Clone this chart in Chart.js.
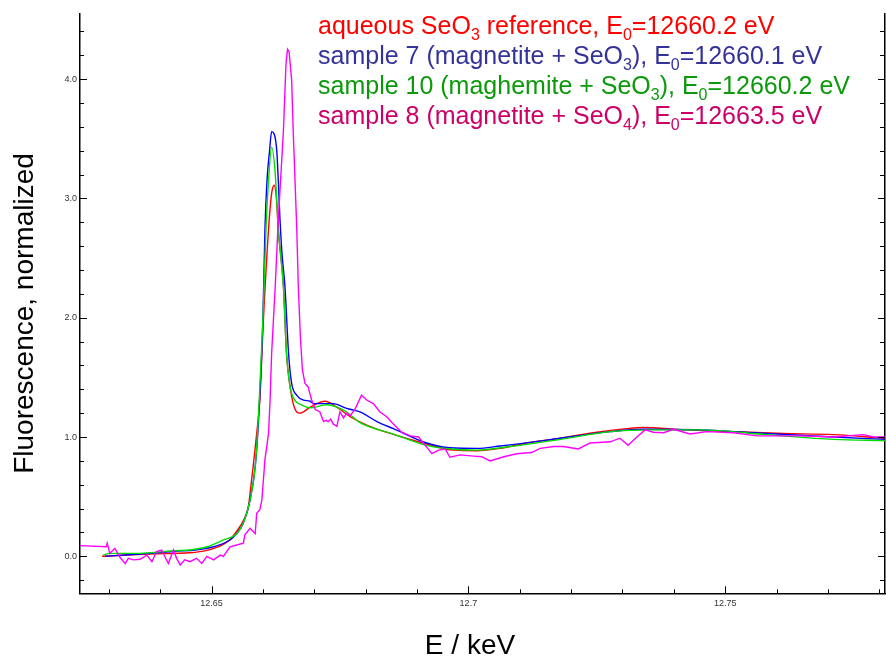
<!DOCTYPE html>
<html>
<head>
<meta charset="utf-8">
<script src="https://cdn.jsdelivr.net/npm/chart.js@4.4.1/dist/chart.umd.min.js"></script>
<style>
    html, body { margin: 0; padding: 0; background: #fff; }
    #xanes-chart { display: block; }
</style>
</head>
<body>
<canvas id="xanes-chart" width="886" height="656"></canvas>
<script>
// energies in keV, fluorescence normalized
const refEnergy = [12.6287, 12.6380, 12.6458, 12.6491, 12.6523, 12.6536, 12.6549, 12.6562, 12.6572, 12.6575,
    12.6581, 12.6588, 12.6594, 12.6601, 12.6611, 12.6617, 12.6622, 12.6626, 12.6630, 12.6640,
    12.6646, 12.6653, 12.6659, 12.6666, 12.6672, 12.6692, 12.6721, 12.6744, 12.6770, 12.6802,
    12.6848, 12.6912, 12.6971, 12.7016, 12.7062, 12.7114, 12.7179, 12.7243, 12.7308, 12.7341,
    12.7419, 12.7516, 12.7613, 12.7711, 12.7811];
const refFluor = [0.00, 0.02, 0.03, 0.05, 0.10, 0.14, 0.21, 0.30, 0.42, 0.53,
    0.75, 1.03, 1.31, 1.98, 2.74, 3.04, 3.11, 3.02, 2.74, 2.26,
    1.70, 1.42, 1.28, 1.21, 1.20, 1.25, 1.30, 1.25, 1.17, 1.10,
    1.03, 0.95, 0.89, 0.885, 0.905, 0.95, 0.99, 1.036, 1.07, 1.08,
    1.06, 1.045, 1.03, 1.02, 0.99];

const s7Energy = [12.6293, 12.6328, 12.6426, 12.6491, 12.6536, 12.6549, 12.6562, 12.6575, 12.6585, 12.6591,
    12.6600, 12.6604, 12.6608, 12.6613, 12.6617, 12.6622, 12.6627, 12.6630, 12.6633, 12.6637,
    12.6643, 12.6650, 12.6656, 12.6666, 12.6679, 12.6692, 12.6698, 12.6737, 12.6763, 12.6789,
    12.6822, 12.6854, 12.6919, 12.6964, 12.7016, 12.7062, 12.7146, 12.7211, 12.7276, 12.7341,
    12.7451, 12.7581, 12.7711, 12.7811];
const s7Fluor = [0.00, 0.01, 0.04, 0.067, 0.137, 0.19, 0.28, 0.47, 0.75, 1.10,
    1.98, 2.74, 3.15, 3.40, 3.56, 3.54, 3.40, 3.15, 2.85, 2.55,
    2.26, 1.70, 1.45, 1.35, 1.31, 1.30, 1.28, 1.28, 1.24, 1.21,
    1.13, 1.07, 0.95, 0.91, 0.905, 0.925, 0.97, 1.01, 1.045, 1.065,
    1.06, 1.03, 1.00, 0.98];

const s10Energy = [12.6289, 12.6302, 12.6361, 12.6426, 12.6458, 12.6491, 12.6523, 12.6549, 12.6562, 12.6575,
    12.6585, 12.6591, 12.6600, 12.6606, 12.6611, 12.6617, 12.6624, 12.6630, 12.6640, 12.6646,
    12.6653, 12.6662, 12.6675, 12.6692, 12.6724, 12.6744, 12.6763, 12.6789, 12.6854, 12.6919,
    12.6971, 12.7016, 12.7081, 12.7179, 12.7276, 12.7354, 12.7451, 12.7581, 12.7711, 12.7811];
const s10Fluor = [0.01, 0.025, 0.025, 0.047, 0.053, 0.08, 0.137, 0.19, 0.28, 0.47,
    0.75, 1.14, 1.98, 2.74, 3.15, 3.43, 3.21, 2.74, 2.26, 1.70,
    1.42, 1.31, 1.27, 1.245, 1.27, 1.25, 1.21, 1.12, 1.025, 0.93,
    0.897, 0.89, 0.92, 0.98, 1.045, 1.06, 1.06, 1.02, 0.98, 0.97];

const s8Energy = [12.6244, 12.6295, 12.6297, 12.6302, 12.6312, 12.6322, 12.6332, 12.6338, 12.6348, 12.6361,
    12.6374, 12.6384, 12.6393, 12.6403, 12.6416, 12.6426, 12.6432, 12.6439, 12.6448, 12.6458,
    12.6471, 12.6481, 12.6491, 12.6504, 12.6517, 12.6523, 12.6536, 12.6549, 12.6562, 12.6565,
    12.6575, 12.6585, 12.6588, 12.6594, 12.6598, 12.6604, 12.6611, 12.6614, 12.6617, 12.6624,
    12.6630, 12.6640, 12.6645, 12.6648, 12.6651, 12.6656, 12.6659, 12.6666, 12.6669, 12.6673,
    12.6677, 12.6682, 12.6688, 12.6695, 12.6702, 12.6711, 12.6718, 12.6723, 12.6727, 12.6732,
    12.6737, 12.6744, 12.6750, 12.6757, 12.6763, 12.6770, 12.6779, 12.6792, 12.6802, 12.6815,
    12.6828, 12.6841, 12.6854, 12.6870, 12.6887, 12.6903, 12.6916, 12.6929, 12.6942, 12.6955,
    12.6964, 12.6984, 12.7010, 12.7026, 12.7042, 12.7069, 12.7094, 12.7123, 12.7140, 12.7166,
    12.7185, 12.7214, 12.7237, 12.7276, 12.7295, 12.7311, 12.7328, 12.7344, 12.7360, 12.7380,
    12.7399, 12.7432, 12.7464, 12.7516, 12.7562, 12.7646, 12.7711, 12.7769, 12.7788, 12.7811];
const s8Fluor = [0.09, 0.08, 0.11, 0.025, 0.067, -0.01, -0.06, -0.017, -0.03, -0.025,
    0.01, -0.045, 0.04, 0.053, -0.06, 0.053, -0.017, -0.073, -0.03, -0.045,
    -0.017, -0.06, 0.00, -0.03, 0.01, 0.00, 0.08, 0.095, 0.11, 0.18,
    0.235, 0.19, 0.36, 0.39, 0.47, 0.81, 1.03, 1.31, 1.70, 2.26,
    2.82, 3.57, 4.13, 4.25, 4.23, 3.99, 3.57, 2.74, 2.26, 1.84,
    1.56, 1.45, 1.42, 1.31, 1.23, 1.21, 1.13, 1.14, 1.13, 1.15,
    1.11, 1.09, 1.21, 1.16, 1.20, 1.18, 1.23, 1.35, 1.31, 1.28,
    1.21, 1.17, 1.11, 1.04, 1.01, 1.00, 0.93, 0.86, 0.89, 0.90,
    0.83, 0.85, 0.84, 0.835, 0.80, 0.835, 0.86, 0.87, 0.905, 0.92,
    0.92, 0.90, 0.95, 0.96, 0.99, 0.93, 1.00, 1.06, 1.04, 1.036,
    1.065, 1.025, 1.045, 1.036, 1.01, 1.01, 1.00, 1.02, 1.00, 1.00];

const xTickValues = [12.65, 12.7, 12.75];
const xTickLabels = ["12.65", "12.7", "12.75"];
const yTickValues = [0, 1, 2, 3, 4];
const yTickLabels = ["0.0", "1.0", "2.0", "3.0", "4.0"];

// legend lines: [text, isSubscript]
const legendLines = [
    { color: "#ff0000", parts: [["aqueous SeO", 0], ["3", 1], [" reference, E", 0], ["0", 1], ["=12660.2 eV", 0]] },
    { color: "#333399", parts: [["sample 7 (magnetite + SeO", 0], ["3", 1], ["), E", 0], ["0", 1], ["=12660.1 eV", 0]] },
    { color: "#0a9a0a", parts: [["sample 10 (maghemite + SeO", 0], ["3", 1], ["), E", 0], ["0", 1], ["=12660.2 eV", 0]] },
    { color: "#cc0066", parts: [["sample 8 (magnetite + SeO", 0], ["4", 1], ["), E", 0], ["0", 1], ["=12663.5 eV", 0]] }
];

const FONT = "'Liberation Sans', Arial, sans-serif";

function toPoints(energies, values) {
    return energies.map((e, i) => ({ x: e, y: values[i] }));
}

// inward tick marks, axis titles and the text legend
const decorations = {
    id: "decorations",
    afterDraw(chart) {
        const { ctx, chartArea: area, scales: { x, y } } = chart;
        ctx.save();
        ctx.strokeStyle = "#000";
        ctx.lineWidth = 1;
        ctx.beginPath();
        for (let k = -1; k <= 22; k++) {
            const v = k * 0.2;
            if (v < y.min || v > y.max) continue;
            const py = Math.round(y.getPixelForValue(v)) + 0.5;
            const major = k % 5 === 0;
            ctx.moveTo(area.left, py);
            ctx.lineTo(area.left + (major ? 7 : 4), py);
            ctx.moveTo(area.right, py);
            ctx.lineTo(area.right - (major ? 7 : 5), py);
        }
        for (let k = 1263; k <= 1278; k++) {
            const px = Math.round(x.getPixelForValue(k / 100)) + 0.5;
            const major = k % 5 === 0;
            ctx.moveTo(px, area.bottom);
            ctx.lineTo(px, area.bottom - (major ? 7 : 4));
        }
        ctx.stroke();

        // axis titles
        ctx.fillStyle = "#000";
        ctx.font = "28px " + FONT;
        ctx.textAlign = "center";
        ctx.textBaseline = "alphabetic";
        ctx.fillText("E / keV", 470, 654);
        ctx.save();
        ctx.translate(33, 313.5);
        ctx.rotate(-Math.PI / 2);
        ctx.fillText("Fluorescence, normalized", 0, 0);
        ctx.restore();

        // legend
        ctx.textAlign = "left";
        legendLines.forEach((line, i) => {
            let cx = 318;
            const base = 33.5 + i * 30;
            ctx.fillStyle = line.color;
            line.parts.forEach(([text, sub]) => {
                ctx.font = (sub ? "16px " : "25px ") + FONT;
                ctx.fillText(text, cx, sub ? base + 6 : base);
                cx += ctx.measureText(text).width;
            });
        });
        ctx.restore();
    }
};

let xanesChart;

function createXanesChart() {
    const canvas = document.getElementById("xanes-chart");
    xanesChart = new Chart(canvas.getContext("2d"), {
        type: "line",
        data: {
            datasets: [
                {
                    label: "sample 8",
                    data: toPoints(s8Energy, s8Fluor),
                    borderColor: "#ff00ff",
                    order: 0
                },
                {
                    label: "sample 10",
                    data: toPoints(s10Energy, s10Fluor),
                    borderColor: "#00dd00",
                    cubicInterpolationMode: "monotone",
                    order: 1
                },
                {
                    label: "sample 7",
                    data: toPoints(s7Energy, s7Fluor),
                    borderColor: "#0000ff",
                    cubicInterpolationMode: "monotone",
                    order: 2
                },
                {
                    label: "aqueous SeO3",
                    data: toPoints(refEnergy, refFluor),
                    borderColor: "#ff0000",
                    cubicInterpolationMode: "monotone",
                    order: 3
                }
            ]
        },
        options: {
            responsive: false,
            animation: false,
            layout: { padding: { top: 14, left: 0, right: 0, bottom: 0 } },
            elements: {
                point: { radius: 0 },
                line: { borderWidth: 1.4, fill: false }
            },
            plugins: {
                legend: { display: false },
                tooltip: { enabled: false }
            },
            scales: {
                x: {
                    type: "linear",
                    min: 12.6244,
                    max: 12.7811,
                    grid: { display: false, drawTicks: false },
                    border: { display: true, color: "#000", width: 1.5 },
                    afterBuildTicks: (scale) => { scale.ticks = xTickValues.map(v => ({ value: v })); },
                    afterFit: (scale) => { scale.height = 62.7; },
                    ticks: {
                        color: "#333",
                        font: { family: FONT, size: 9 },
                        padding: 5,
                        maxRotation: 0,
                        autoSkip: false,
                        callback: (v, i) => xTickLabels[i]
                    }
                },
                y: {
                    type: "linear",
                    min: -0.31,
                    max: 4.546,
                    grid: { display: false, drawTicks: false },
                    border: { display: true, color: "#000", width: 1.5 },
                    afterBuildTicks: (scale) => { scale.ticks = yTickValues.map(v => ({ value: v })); },
                    afterFit: (scale) => { scale.width = 80; },
                    ticks: {
                        color: "#333",
                        font: { family: FONT, size: 9 },
                        padding: 3,
                        autoSkip: false,
                        callback: (v, i) => yTickLabels[i]
                    }
                },
                yRight: {
                    type: "linear",
                    position: "right",
                    min: -0.31,
                    max: 4.546,
                    grid: { display: false, drawTicks: false },
                    border: { display: true, color: "#000", width: 1.5 },
                    ticks: { display: false },
                    afterFit: (scale) => { scale.width = 1; }
                }
            }
        },
        plugins: [decorations]
    });
}

createXanesChart();
</script>
</body>
</html>
